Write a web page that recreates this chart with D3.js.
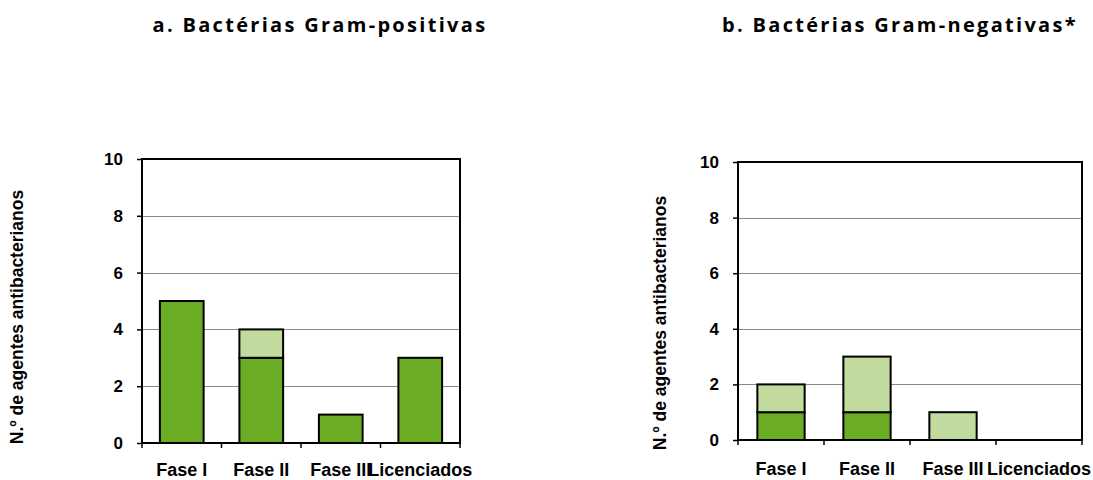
<!DOCTYPE html>
<html>
<head>
<meta charset="utf-8">
<script src="https://cdn.jsdelivr.net/npm/d3@7"></script>
<style>
  body { margin: 0; background: white; }
  svg { font-family: "Liberation Sans", Arial, sans-serif; }
</style>
</head>
<body>
<svg id="chart" width="1093" height="480"></svg>
<script>
const categories = ["Fase I", "Fase II", "Fase III", "Licenciados"];
const yTicks = [0, 2, 4, 6, 8, 10];
const posDark = [5, 3, 1, 3];
const posLight = [0, 1, 0, 0];
const negDark = [1, 1, 0, 0];
const negLight = [1, 2, 1, 0];
const titles = ["a. Bactérias Gram-positivas", "b. Bactérias Gram-negativas*"];
const yLabel = "N.º de agentes antibacterianos";

const darkGreen = "#6aac24";
const lightGreen = "#c1da9d";

const svg = d3.select("#chart");

function drawPanel(opts) {
    const {left, right, top, bottom, dark, light, title, titleX, labelX, labelY, labelBase} = opts;

    const x = d3.scaleBand().domain(categories).range([left, right]).paddingInner(0.45).paddingOuter(0.225);
    const xb = d3.scaleBand().domain(categories).range([left, right]);
    const y = d3.scaleLinear().domain([0, 10]).range([bottom, top]);

    const g = svg.append("g");

    // gridlines
    g.append("g").selectAll("line").data(yTicks.filter(d => d > 0 && d < 10)).join("line")
        .attr("x1", left).attr("x2", right)
        .attr("y1", d => Math.round(y(d)) + 0.5).attr("y2", d => Math.round(y(d)) + 0.5)
        .attr("stroke", "#8a8a8a").attr("stroke-width", 1);

    const rows = categories.map((c, i) => ({cat: c, dark: dark[i], light: light[i]}));
    const series = d3.stack().keys(["dark", "light"])(rows);
    const color = {dark: darkGreen, light: lightGreen};

    g.append("g").selectAll("g").data(series).join("g")
        .attr("fill", d => color[d.key])
        .selectAll("rect").data(d => d.filter(s => s[1] > s[0])).join("rect")
        .attr("x", d => x(d.data.cat))
        .attr("width", x.bandwidth())
        .attr("y", d => y(d[1]))
        .attr("height", d => y(d[0]) - y(d[1]))
        .attr("stroke", "black").attr("stroke-width", 2);

    // plot frame
    g.append("rect")
        .attr("x", left).attr("y", top)
        .attr("width", right - left).attr("height", bottom - top)
        .attr("fill", "none").attr("stroke", "black").attr("stroke-width", 2);

    // y axis
    const yAxis = g.append("g").attr("transform", `translate(${left},0)`)
        .call(d3.axisLeft(y).tickValues(yTicks).tickSize(5).tickPadding(14));
    yAxis.select(".domain").remove();
    yAxis.selectAll("line").attr("stroke", "black").attr("stroke-width", 1.5);
    yAxis.selectAll("text").attr("font-size", "17px").attr("font-weight", "bold").attr("fill", "black")
        .attr("font-family", "'Liberation Sans', Arial, sans-serif");

    // x axis ticks at category boundaries
    const bounds = categories.map(c => xb(c)).concat([right]);
    g.append("g").selectAll("line").data(bounds).join("line")
        .attr("x1", d => d).attr("x2", d => d)
        .attr("y1", bottom).attr("y2", bottom + 5)
        .attr("stroke", "black").attr("stroke-width", 1.5);

    g.append("g").selectAll("text").data(categories).join("text")
        .attr("x", d => xb(d) + xb.bandwidth() / 2)
        .attr("y", labelBase)
        .attr("text-anchor", "middle")
        .attr("font-size", "18px").attr("font-weight", "bold")
        .text(d => d);

    // axis title
    g.append("text")
        .attr("transform", `translate(${labelX},${labelY}) rotate(-90)`)
        .attr("text-anchor", "middle")
        .attr("font-size", "17.5px").attr("font-weight", "bold")
        .text(yLabel);

    svg.append("text")
        .attr("x", titleX).attr("y", 32)
        .attr("text-anchor", "middle")
        .attr("font-family", "'Open Sans', sans-serif")
        .attr("font-size", "20px").attr("font-weight", "bold")
        .attr("letter-spacing", "2.3px")
        .text(title);
}

drawPanel({left: 142, right: 460, top: 159, bottom: 443, dark: posDark, light: posLight,
    title: titles[0], titleX: 320, labelX: 23, labelY: 317, labelBase: 476});
drawPanel({left: 738, right: 1082, top: 162, bottom: 440, dark: negDark, light: negLight,
    title: titles[1], titleX: 900, labelX: 666, labelY: 323, labelBase: 475});
</script>
</body>
</html>
